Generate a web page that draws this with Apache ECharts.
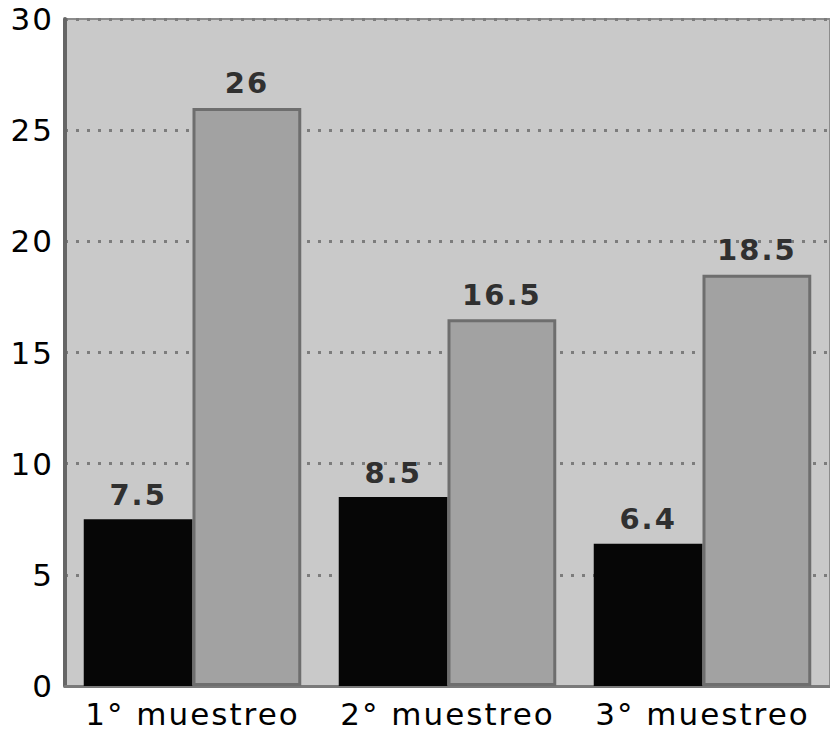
<!DOCTYPE html>
<html>
<head>
<meta charset="utf-8">
<script src="https://cdn.jsdelivr.net/npm/echarts@6/dist/echarts.min.js"></script>
<style>
  html, body { margin: 0; padding: 0; background: #ffffff; }
  #chart { width: 830px; height: 731px; }
  /* wide, airy lettering for all chart text */
  #chart svg text { letter-spacing: 2px; }
</style>
</head>
<body>
<div id="chart"></div>
<script>
// Sampling rounds and the two measured series
const categories = ['1° muestreo', '2° muestreo', '3° muestreo'];
const serieOscura = [7.5, 8.5, 6.4];
const serieClara = [26, 16.5, 18.5];
const yTicks = { min: 0, max: 30, interval: 5 };

const fontFamily = '"DejaVu Sans", "Liberation Sans", Arial, sans-serif';

const valueLabel = {
  show: true,
  position: 'top',
  distance: 10,
  fontFamily: fontFamily,
  fontWeight: 'bold',
  fontSize: 29,
  color: '#303030'
};

const chart = echarts.init(document.getElementById('chart'), null, { renderer: 'svg' });
chart.setOption({
  animation: false,
  backgroundColor: '#ffffff',
  grid: {
    left: 65, right: -9, top: 19, bottom: 45,
    show: true,
    backgroundColor: '#c9c9c9',
    borderColor: '#8c8c8c',
    borderWidth: 2
  },
  xAxis: {
    type: 'category',
    data: categories,
    axisTick: { show: false },
    axisLine: { show: true, lineStyle: { color: '#7a7a7a', width: 3 } },
    axisLabel: {
      margin: 13,
      fontFamily: fontFamily,
      fontSize: 31,
      lineHeight: 30,
      color: '#000000'
    }
  },
  yAxis: {
    type: 'value',
    min: yTicks.min,
    max: yTicks.max,
    interval: yTicks.interval,
    axisTick: { show: false },
    axisLine: { show: true, lineStyle: { color: '#666666', width: 4 } },
    axisLabel: {
      margin: 11,
      fontFamily: fontFamily,
      fontSize: 31,
      color: '#000000'
    },
    splitLine: {
      show: true,
      lineStyle: { color: '#7c7c7c', width: 3, type: [3, 8] }
    }
  },
  series: [
    {
      type: 'bar',
      data: serieOscura,
      barGap: '0%',
      barCategoryGap: '14.7%',
      itemStyle: { color: '#060606', borderColor: '#060606', borderWidth: 0 },
      label: valueLabel
    },
    {
      type: 'bar',
      data: serieClara,
      itemStyle: { color: '#a2a2a2', borderColor: '#6e6e6e', borderWidth: 3 },
      label: valueLabel
    }
  ]
});
</script>
</body>
</html>
